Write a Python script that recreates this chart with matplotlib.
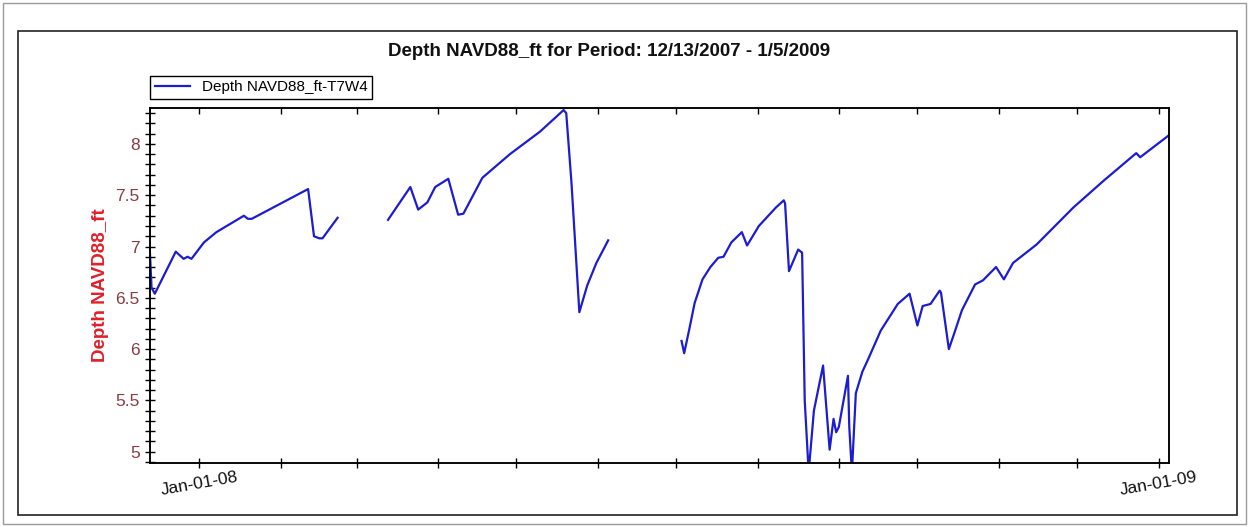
import matplotlib
matplotlib.use("Agg")
import matplotlib.pyplot as plt
import matplotlib.dates as mdates
from matplotlib.patches import Rectangle
from matplotlib.ticker import MultipleLocator, FuncFormatter, NullFormatter
import pandas as pd

plt.rcParams["font.family"] = ["Liberation Sans", "DejaVu Sans"]

TITLE = "Depth NAVD88_ft for Period: 12/13/2007 - 1/5/2009"
Y_LABEL = "Depth NAVD88_ft"
SERIES_NAME = "Depth NAVD88_ft-T7W4"

# three logged stretches, with gaps between them
seg1_dates = [
    "2007-12-13 00:00", "2007-12-13 18:00", "2007-12-15", "2007-12-23", "2007-12-26",
    "2007-12-27 12:00", "2007-12-29", "2008-01-02 18:00", "2008-01-07 12:00", "2008-01-18",
    "2008-01-19 12:00", "2008-01-21", "2008-02-11 12:00", "2008-02-13 18:00", "2008-02-15 18:00",
    "2008-02-17", "2008-02-22 18:00",
]
seg1_vals = [
    7.02, 6.60, 6.54, 6.95, 6.88,
    6.90, 6.88, 7.04, 7.14, 7.30,
    7.27, 7.27, 7.56, 7.10, 7.08,
    7.08, 7.28,
]

seg2_dates = [
    "2008-03-13", "2008-03-21 12:00", "2008-03-24 12:00", "2008-03-28", "2008-03-31",
    "2008-04-05", "2008-04-08 18:00", "2008-04-10 18:00", "2008-04-18", "2008-04-28 12:00",
    "2008-05-10", "2008-05-19", "2008-05-20", "2008-05-22", "2008-05-25",
    "2008-05-28", "2008-05-31 12:00", "2008-06-05",
]
seg2_vals = [
    7.26, 7.58, 7.36, 7.43, 7.58,
    7.66, 7.31, 7.32, 7.67, 7.90,
    8.12, 8.33, 8.30, 7.62, 6.36,
    6.62, 6.84, 7.06,
]

seg3_dates = [
    "2008-07-03", "2008-07-04", "2008-07-06", "2008-07-08", "2008-07-11", "2008-07-14",
    "2008-07-17", "2008-07-19", "2008-07-22", "2008-07-26", "2008-07-28", "2008-08-01 12:00",
    "2008-08-08", "2008-08-11", "2008-08-11 12:00", "2008-08-13", "2008-08-16 12:00",
    "2008-08-18", "2008-08-19", "2008-08-20 12:00", "2008-08-22 12:00", "2008-08-26",
    "2008-08-28 12:00", "2008-08-30", "2008-08-31", "2008-09-01", "2008-09-04 12:00",
    "2008-09-05", "2008-09-06", "2008-09-07 12:00", "2008-09-10", "2008-09-12", "2008-09-17",
    "2008-09-23 12:00", "2008-09-28", "2008-10-01", "2008-10-03", "2008-10-06",
    "2008-10-09 12:00", "2008-10-10", "2008-10-13", "2008-10-15", "2008-10-18", "2008-10-23",
    "2008-10-26", "2008-10-31", "2008-11-03", "2008-11-06 12:00", "2008-11-15 12:00",
    "2008-11-29 12:00", "2008-12-11", "2008-12-23 12:00", "2008-12-25", "2009-01-04 18:00",
]
seg3_vals = [
    6.08, 5.96, 6.20, 6.45, 6.68, 6.80,
    6.89, 6.90, 7.04, 7.14, 7.01, 7.20,
    7.38, 7.45, 7.42, 6.76, 6.97,
    6.94, 5.50, 4.80, 5.40, 5.84,
    5.02, 5.32, 5.19, 5.24, 5.74,
    5.24, 4.80, 5.57, 5.78, 5.89, 6.18,
    6.44, 6.54, 6.23, 6.42, 6.44,
    6.57, 6.55, 6.00, 6.15, 6.38, 6.63,
    6.67, 6.80, 6.68, 6.84, 7.02,
    7.38, 7.64, 7.91, 7.87, 8.08,
]

X_START = "2007-12-13 04:00"
X_END = "2009-01-05"
Y_MIN, Y_MAX = 4.89, 8.35

LINE_COLOR = "#1c1cd0"
W, H = 1249, 527

fig = plt.figure(figsize=(W / 100, H / 100), dpi=100)
fig.patch.set_facecolor("white")

# outer and inner frames, in pixels
fig.patches.append(Rectangle((3 / W, 3 / H), 1243 / W, 521 / H, transform=fig.transFigure,
                             fill=False, edgecolor="#9a9a9a", linewidth=1.0))
fig.patches.append(Rectangle((18 / W, (H - 515) / H), (1237 - 18) / W, (515 - 31) / H,
                             transform=fig.transFigure, fill=False, edgecolor="#222222", linewidth=1.2))

ax = fig.add_axes([150 / W, (H - 463) / H, (1169 - 150) / W, (463 - 108) / H])

first = True
for dates, vals in [(seg1_dates, seg1_vals), (seg2_dates, seg2_vals), (seg3_dates, seg3_vals)]:
    ax.plot(pd.to_datetime(dates, format="mixed"), vals, color=LINE_COLOR, linewidth=1.6,
            label=SERIES_NAME if first else None, solid_joinstyle="round")
    first = False

ax.set_xlim(pd.Timestamp(X_START), pd.Timestamp(X_END))
ax.set_ylim(Y_MIN, Y_MAX)

ax.yaxis.set_major_locator(MultipleLocator(0.5))
ax.yaxis.set_minor_locator(MultipleLocator(0.1))
ax.yaxis.set_major_formatter(FuncFormatter(lambda v, p: f"{v:g}"))

ax.xaxis.set_major_locator(mdates.MonthLocator())
ax.xaxis.set_major_formatter(
    FuncFormatter(lambda v, p: mdates.num2date(v).strftime("%b-%d-%y") if mdates.num2date(v).month == 1 else "")
)

ax.tick_params(axis="y", which="both", direction="inout", length=7, width=1, colors="black",
               labelcolor="#8b3a44", labelsize=12.5, pad=4)
ax.tick_params(axis="x", which="major", direction="inout", length=7, width=1,
               labelsize=12.5, labelcolor="#111111", pad=1)
plt.setp(ax.get_xticklabels(), rotation=10, ha="center")

# month ticks along the top edge, pointing inward
top = ax.twiny()
top.set_xlim(ax.get_xlim())
top.xaxis.set_major_locator(mdates.MonthLocator())
top.xaxis.set_major_formatter(NullFormatter())
top.tick_params(axis="x", direction="in", length=4, width=1)

for a in (ax, top):
    for s in a.spines.values():
        s.set_linewidth(1.1)
        s.set_color("black")

ax.set_ylabel(Y_LABEL, color="#e0202a", fontweight="bold", fontsize=13.5)
ax.yaxis.set_label_coords(-0.04, 0.5)

fig.text(609 / W, (H - 52) / H, TITLE, ha="center", va="center", fontsize=13.5,
         fontweight="bold", color="#111111")

leg = ax.legend(loc="lower left", bbox_to_anchor=(0, (463 - 99) / (463 - 108)), borderaxespad=0,
                fancybox=False, framealpha=1, edgecolor="black", fontsize=11,
                handlelength=2.3, handletextpad=0.8, borderpad=0.3)
leg.get_frame().set_linewidth(1.0)
leg.set_zorder(5)

fig.savefig("out.png", dpi=100, facecolor="white")
